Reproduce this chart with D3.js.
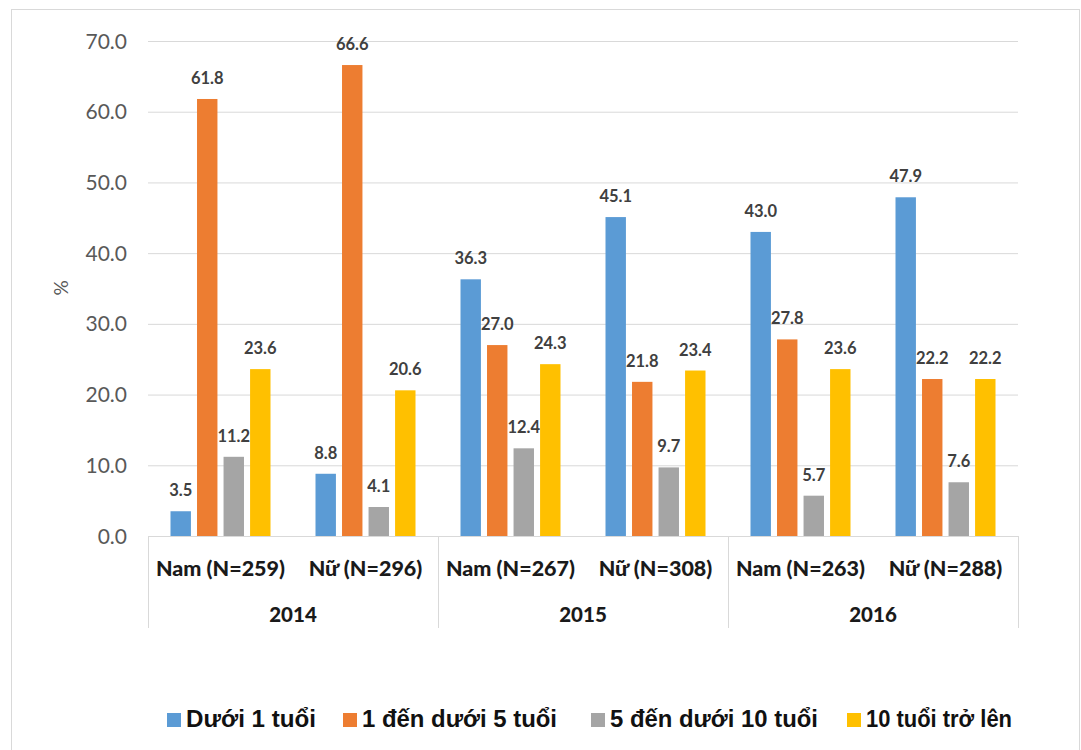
<!DOCTYPE html>
<html><head><meta charset="utf-8">
<script src="https://cdn.jsdelivr.net/npm/d3@7"></script>
<style>body{margin:0;background:#fff}svg{display:block}</style>
</head><body>
<script>
const years = ["2014", "2015", "2016"];
const groups = ["Nam (N=259)", "Nữ (N=296)", "Nam (N=267)", "Nữ (N=308)", "Nam (N=263)", "Nữ (N=288)"];
const groupYear = ["2014", "2014", "2015", "2015", "2016", "2016"];
const series = ["Dưới 1 tuổi", "1 đến dưới 5 tuổi", "5 đến dưới 10 tuổi", "10 tuổi trở lên"];
const duoi1 = [3.5, 8.8, 36.3, 45.1, 43.0, 47.9];
const tu1den5 = [61.8, 66.6, 27.0, 21.8, 27.8, 22.2];
const tu5den10 = [11.2, 4.1, 12.4, 9.7, 5.7, 7.6];
const tren10 = [23.6, 20.6, 24.3, 23.4, 23.6, 22.2];
const yTicks = [0, 10, 20, 30, 40, 50, 60, 70];
const colors = ["#5b9bd5", "#ed7d31", "#a5a5a5", "#ffc000"];
const values = [duoi1, tu1den5, tu5den10, tren10];

const W = 1081, H = 750;
const svg = d3.select("body").append("svg").attr("width", W).attr("height", H);
svg.append("rect").attr("x", 11.5).attr("y", 9.5).attr("width", 1068).attr("height", 760)
  .attr("fill", "#fff").attr("stroke", "#d9d9d9");

const pL = 148, pR = 1018, pT = 41, pB = 536;
const y = d3.scaleLinear().domain([0, 70]).range([pB, pT]);
const x0 = d3.scaleBand().domain(groups.map((g, i) => i)).range([pL, pR]).padding(0);
const x1 = d3.scaleBand().domain(series).range([22.5, x0.bandwidth() - 22.5]).paddingInner(0.23);

// grid
svg.append("g").selectAll("line").data(yTicks.filter(d => d > 0)).join("line")
  .attr("x1", pL).attr("x2", pR).attr("y1", d => y(d) + 0.5).attr("y2", d => y(d) + 0.5)
  .attr("stroke", "#d9d9d9").attr("stroke-width", 1);

// y axis labels
const yAxis = d3.axisLeft(y).tickValues(yTicks).tickFormat(d3.format(".1f")).tickSize(0).tickPadding(21);
const ya = svg.append("g").attr("transform", `translate(${pL},0)`).call(yAxis);
ya.select(".domain").remove();
ya.selectAll("text").attr("fill", "#595959").attr("font-family", "Lato, 'Open Sans', sans-serif")
  .attr("font-size", 21).attr("dy", "0.34em");

svg.append("text").attr("transform", "translate(68,288) rotate(-90)").attr("text-anchor", "middle")
  .attr("font-family", "Lato, sans-serif").attr("font-size", 19).attr("fill", "#595959").text("%");

// bars
groups.forEach((g, gi) => {
  const gx = x0(gi);
  series.forEach((s, si) => {
    const v = values[si][gi];
    svg.append("rect").attr("x", gx + x1(s)).attr("width", x1.bandwidth())
      .attr("y", y(v)).attr("height", y(0) - y(v)).attr("fill", colors[si]);
    svg.append("text").attr("x", gx + x1(s) + x1.bandwidth() / 2).attr("y", y(v) - 15)
      .attr("text-anchor", "middle").attr("font-family", "Lato, sans-serif").attr("font-weight", "bold")
      .attr("font-size", 16.5).attr("fill", "#404040").text(v.toFixed(1));
  });
  svg.append("text").attr("x", gx + x0.bandwidth() / 2).attr("y", 576).attr("text-anchor", "middle")
    .attr("font-family", "Lato, sans-serif").attr("font-weight", "900").attr("font-size", 21.5)
    .attr("fill", "#1a1a1a").text(g);
});

// baseline and separators
svg.append("line").attr("x1", pL).attr("x2", pR).attr("y1", pB + 0.5).attr("y2", pB + 0.5)
  .attr("stroke", "#d9d9d9");
const seps = [0, 2, 4].map(i => x0(i)).concat([pR]);
svg.append("g").selectAll("line").data(seps).join("line")
  .attr("x1", d => d + 0.5).attr("x2", d => d + 0.5).attr("y1", pB).attr("y2", 628)
  .attr("stroke", "#d9d9d9");
years.forEach((yr) => {
  const idx = groupYear.indexOf(yr);
  const cx = (x0(idx) + x0(idx + 1) + x0.bandwidth()) / 2;
  svg.append("text").attr("x", cx).attr("y", 622).attr("text-anchor", "middle")
    .attr("font-family", "Lato, sans-serif").attr("font-weight", "900").attr("font-size", 20.5)
    .attr("fill", "#1a1a1a").text(yr);
});

// legend
const legX = [167, 343, 591, 847];
const legW = [130, 195, 208, 146];
series.forEach((s, i) => {
  svg.append("rect").attr("x", legX[i]).attr("y", 713).attr("width", 14).attr("height", 14).attr("fill", colors[i]);
  svg.append("text").attr("x", legX[i] + 19).attr("y", 727)
    .attr("font-family", "'Liberation Sans', Arial, sans-serif").attr("font-weight", "bold")
    .attr("font-size", 23.5).attr("fill", "#111")
    .attr("textLength", legW[i]).attr("lengthAdjust", "spacingAndGlyphs").text(s);
});
</script>
</body></html>
